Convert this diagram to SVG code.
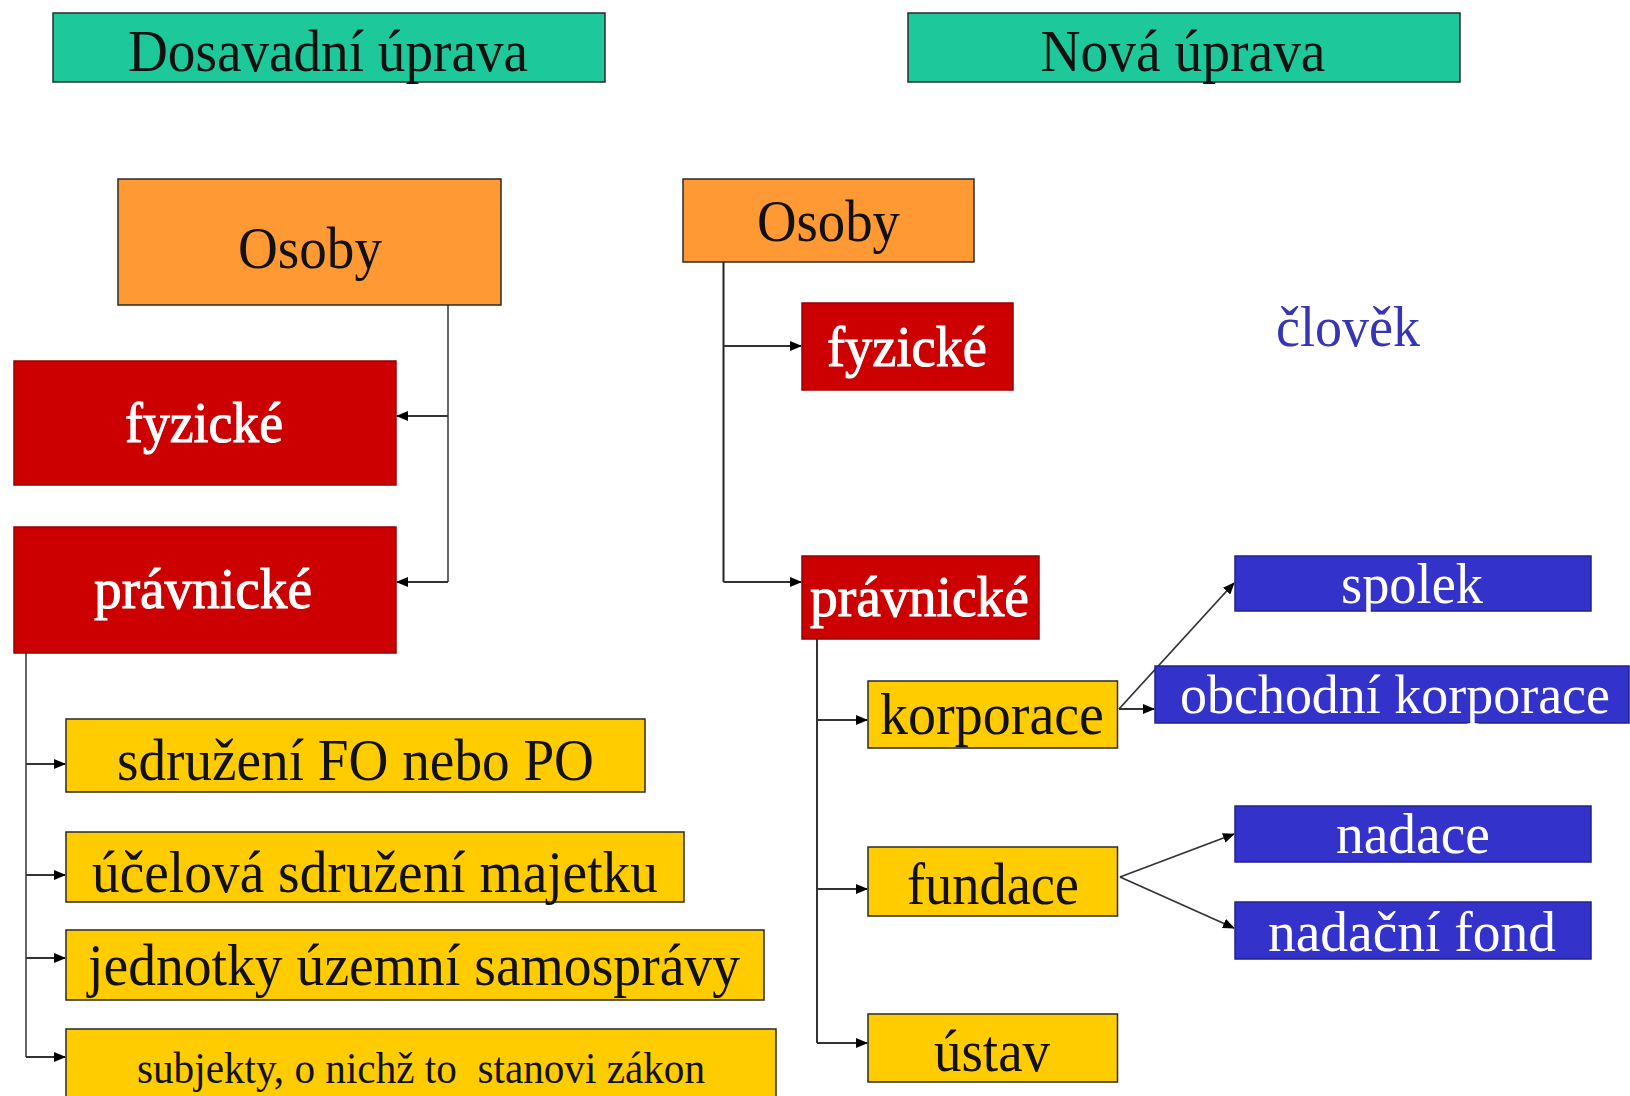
<svg xmlns="http://www.w3.org/2000/svg" width="1630" height="1096" viewBox="0 0 1630 1096">
<defs>
<marker id="arr" markerUnits="userSpaceOnUse" markerWidth="12" markerHeight="10" refX="11" refY="5" orient="auto">
<path d="M0,0 L12,5 L0,10 z" fill="#000"/>
</marker>
<style>
text{font-family:"Liberation Serif","Times New Roman",serif;text-anchor:middle}
.box{stroke:#2a2a2a;stroke-width:1.5}
.green{fill:#1DC99A}
.orange{fill:#FF9933}
.red{fill:#CC0000}
.yellow{fill:#FFCC00}
.blue{fill:#3333CC}
.dark{fill:#111;font-size:60px}
.wht{fill:#fff;font-size:58px}
.wb{fill:#fff;font-size:58px;stroke:#fff;stroke-width:1}
.con{fill:none;stroke:#666;stroke-width:2}
.arrow{fill:none;stroke:#333;stroke-width:1.8;marker-end:url(#arr)}
</style>
</defs>
<rect width="1630" height="1096" fill="#fff"/>

<g id="h-dosavadni"><rect class="box green" x="53" y="13" width="552" height="69"/><text class="dark" x="328" y="71" textLength="400" lengthAdjust="spacingAndGlyphs">Dosavadní úprava</text></g>
<g id="h-nova"><rect class="box green" x="908" y="13" width="552" height="69"/><text class="dark" x="1183" y="71" textLength="285" lengthAdjust="spacingAndGlyphs">Nová úprava</text></g>

<g id="connectors">
<path class="con" d="M448 305 V582"/>
<path class="arrow" d="M448 416 H397"/>
<path class="arrow" d="M448 582 H397"/>
<path class="con" d="M26 653 V1057"/>
<path class="arrow" d="M26 764 H65"/>
<path class="arrow" d="M26 875 H65"/>
<path class="arrow" d="M26 958 H65"/>
<path class="arrow" d="M26 1057 H65"/>
<path class="con" d="M723.5 262 V582" style="stroke:#222"/>
<path class="arrow" d="M723.5 346 H801"/>
<path class="arrow" d="M723.5 582 H801"/>
<path class="con" d="M817 639 V1043" style="stroke:#333"/>
<path class="arrow" d="M817 720 H867"/>
<path class="arrow" d="M817 889 H867"/>
<path class="arrow" d="M817 1043 H867"/>
<path class="arrow" d="M1119 709 L1234 583"/>
<path class="arrow" d="M1119 709 H1154"/>
<path class="arrow" d="M1120 877 L1234 834"/>
<path class="arrow" d="M1120 877 L1234 928"/>
</g>

<g id="l-osoby"><rect class="box orange" x="118" y="179" width="383" height="126"/><text class="dark" x="310" y="268" textLength="144" lengthAdjust="spacingAndGlyphs">Osoby</text></g>
<g id="l-fyzicke"><rect class="box red" x="14" y="361" width="382" height="124" style="stroke:#990000"/><text class="wb" x="204" y="442" textLength="158" lengthAdjust="spacingAndGlyphs">fyzické</text></g>
<g id="l-pravnicke"><rect class="box red" x="14" y="527" width="382" height="126" style="stroke:#990000"/><text class="wb" x="203" y="608" textLength="218" lengthAdjust="spacingAndGlyphs">právnické</text></g>

<g id="l-sdruzeni"><rect class="box yellow" x="66" y="719" width="579" height="73"/><text class="dark" x="355.5" y="780" textLength="477" lengthAdjust="spacingAndGlyphs">sdružení FO nebo PO</text></g>
<g id="l-ucelova"><rect class="box yellow" x="66" y="832" width="618" height="70"/><text class="dark" x="375" y="892" textLength="566" lengthAdjust="spacingAndGlyphs">účelová sdružení majetku</text></g>
<g id="l-jednotky"><rect class="box yellow" x="66" y="930" width="698" height="70"/><text class="dark" x="414" y="985" textLength="652" lengthAdjust="spacingAndGlyphs">jednotky územní samosprávy</text></g>
<g id="l-subjekty"><rect class="box yellow" x="66" y="1029" width="710" height="72"/><text class="dark" style="font-size:44px;white-space:pre" xml:space="preserve" x="421" y="1083" textLength="568" lengthAdjust="spacingAndGlyphs">subjekty, o nichž to  stanovi zákon</text></g>

<g id="r-osoby"><rect class="box orange" x="683" y="179" width="291" height="83"/><text class="dark" x="828.5" y="241" textLength="143" lengthAdjust="spacingAndGlyphs">Osoby</text></g>
<g id="r-fyzicke"><rect class="box red" x="802" y="303" width="211" height="87" style="stroke:#990000"/><text class="wb" x="907" y="366" textLength="160" lengthAdjust="spacingAndGlyphs">fyzické</text></g>
<g id="r-clovek"><text x="1348" y="346" style="fill:#3535B5;font-size:56px" textLength="144" lengthAdjust="spacingAndGlyphs">člověk</text></g>
<g id="r-pravnicke"><rect class="box red" x="802" y="556" width="237" height="83" style="stroke:#990000"/><text class="wb" x="919.5" y="616" textLength="219" lengthAdjust="spacingAndGlyphs">právnické</text></g>

<g id="r-korporace"><rect class="box yellow" x="868" y="681" width="249.5" height="67"/><text class="dark" x="992" y="734" textLength="224" lengthAdjust="spacingAndGlyphs">korporace</text></g>
<g id="r-fundace"><rect class="box yellow" x="868" y="847" width="249.5" height="69"/><text class="dark" x="993" y="904" textLength="172" lengthAdjust="spacingAndGlyphs">fundace</text></g>
<g id="r-ustav"><rect class="box yellow" x="868" y="1014" width="249.5" height="68"/><text class="dark" x="992" y="1071" textLength="116" lengthAdjust="spacingAndGlyphs">ústav</text></g>

<g id="r-spolek"><rect class="box blue" x="1235" y="556" width="356" height="55" style="stroke:#22228a"/><text class="wht" x="1412" y="603" textLength="142" lengthAdjust="spacingAndGlyphs">spolek</text></g>
<g id="r-obchodni"><rect class="box blue" x="1155" y="666" width="474" height="57" style="stroke:#22228a"/><text class="wht" style="font-size:54px" x="1395" y="713" textLength="430" lengthAdjust="spacingAndGlyphs">obchodní korporace</text></g>
<g id="r-nadace"><rect class="box blue" x="1235" y="806" width="356" height="56" style="stroke:#22228a"/><text class="wht" x="1413" y="853" textLength="154" lengthAdjust="spacingAndGlyphs">nadace</text></g>
<g id="r-nadacni"><rect class="box blue" x="1235" y="902" width="356" height="57" style="stroke:#22228a"/><text class="wht" x="1412" y="951" textLength="288" lengthAdjust="spacingAndGlyphs">nadační fond</text></g>
</svg>
